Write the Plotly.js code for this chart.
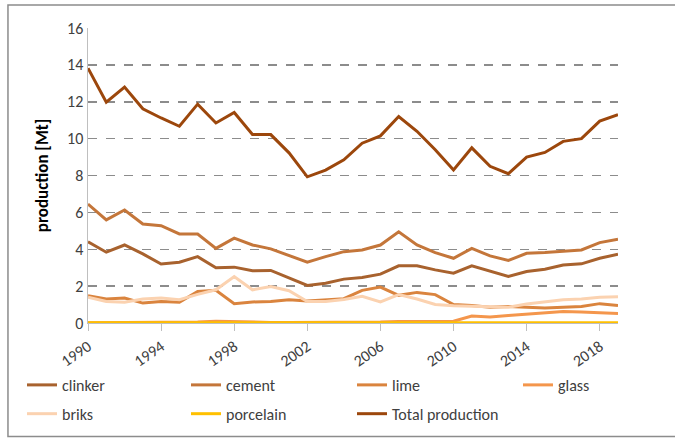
<!DOCTYPE html>
<html>
<head>
<meta charset="utf-8">
<script src="https://cdn.plot.ly/plotly-3.0.1.min.js"></script>
<style>
html,body{margin:0;padding:0;background:#fff;}
#chart{width:675px;height:438px;}
</style>
</head>
<body>
<div id="chart"></div>
<script>
var years = [1990,1991,1992,1993,1994,1995,1996,1997,1998,1999,2000,2001,2002,2003,2004,2005,2006,2007,2008,2009,2010,2011,2012,2013,2014,2015,2016,2017,2018,2019];
var tickYears = [1990,1994,1998,2002,2006,2010,2014,2018];
var yTicks = [0,2,4,6,8,10,12,14,16];

var clinker = [4.41,3.84,4.23,3.75,3.2,3.3,3.6,3.0,3.03,2.83,2.85,2.43,2.04,2.16,2.38,2.47,2.65,3.1,3.1,2.88,2.7,3.1,2.79,2.52,2.79,2.92,3.15,3.21,3.51,3.73];
var cement = [6.45,5.59,6.13,5.37,5.28,4.83,4.83,4.05,4.6,4.23,4.02,3.64,3.3,3.6,3.87,3.96,4.23,4.95,4.23,3.82,3.51,4.05,3.64,3.39,3.78,3.82,3.87,3.96,4.36,4.54];
var lime = [1.48,1.3,1.35,1.08,1.17,1.12,1.71,1.78,1.05,1.14,1.17,1.26,1.2,1.26,1.32,1.77,1.95,1.5,1.66,1.54,1.0,0.95,0.86,0.9,0.86,0.81,0.86,0.9,1.05,0.95];
var glass = [0.02,0.02,0.02,0.02,0.02,0.03,0.05,0.1,0.07,0.05,0.03,0.03,0.03,0.03,0.04,0.05,0.05,0.08,0.1,0.1,0.1,0.38,0.33,0.41,0.49,0.54,0.63,0.6,0.58,0.52];
var briks = [1.4,1.17,1.12,1.3,1.35,1.26,1.55,1.8,2.52,1.8,1.98,1.75,1.17,1.17,1.27,1.45,1.14,1.54,1.3,1.0,0.94,0.9,0.86,0.85,1.03,1.14,1.26,1.3,1.39,1.42];
var porcelain = [0.02,0.02,0.02,0.02,0.02,0.02,0.02,0.02,0.02,0.02,0.02,0.02,0.02,0.02,0.02,0.02,0.02,0.02,0.02,0.02,0.02,0.02,0.02,0.02,0.02,0.02,0.02,0.02,0.02,0.02];
var total = [13.82,11.98,12.8,11.62,11.12,10.67,11.87,10.85,11.42,10.22,10.22,9.23,7.93,8.29,8.85,9.75,10.15,11.2,10.4,9.4,8.3,9.5,8.5,8.1,9.0,9.25,9.85,10.0,10.95,11.3];

var names = ['clinker','cement','lime','glass','briks','porcelain','Total production'];
var series = [clinker,cement,lime,glass,briks,porcelain,total];
var colors = ['#A8622E','#C4763A','#DA843E','#F4964C','#FBD2B0','#FFC000','#9C470C'];
// legend column for each series (reference shows 4 columns, 2 rows)
var legendCols = ['legend','legend2','legend3','legend4','legend','legend2','legend3'];

var FONT = 'Carlito, "Liberation Sans Narrow", Lato, sans-serif';

var traces = names.map(function(n,i){
  return {x: years, y: series[i], name: n, type: 'scatter', mode: 'lines',
          legend: legendCols[i], legendgroup: 'g' + i,
          line: {color: colors[i], width: 3}};
});

function legendAt(xp){
  return {orientation: 'v', x: xp, xanchor: 'left', y: -0.1525, yanchor: 'top',
          font: {size: 16, color: '#404040'}, tracegroupgap: 5, itemwidth: 30,
          bgcolor: 'rgba(0,0,0,0)', borderwidth: 0};
}

var layout = {
  width: 675, height: 438,
  margin: {l: 88, r: 57, t: 28, b: 115, autoexpand: false},
  paper_bgcolor: '#fff', plot_bgcolor: '#fff',
  font: {family: FONT, color: '#404040', size: 15},
  showlegend: true,
  legend: legendAt(-0.1245),
  legend2: legendAt(0.1849),
  legend3: legendAt(0.4981),
  legend4: legendAt(0.8113),
  xaxis: {range: [1990, 2019], tickvals: tickYears, ticktext: tickYears.map(String),
          tickangle: -35, ticks: 'outside', ticklen: 7, tickcolor: '#BFBFBF', automargin: false,
          showgrid: false, zeroline: false, showline: true, linecolor: '#BFBFBF', linewidth: 1,
          tickfont: {size: 16, color: '#404040'}, fixedrange: true},
  yaxis: {range: [0, 16], tickvals: yTicks, showgrid: true, gridcolor: '#8C8C8C', gridwidth: 1.5,
          griddash: 'dash', zeroline: false, showline: true, linecolor: '#BFBFBF', linewidth: 1.5,
          ticks: '', tickfont: {size: 16, color: '#404040'}, automargin: false,
          title: {text: '<b>production [Mt]</b>', font: {size: 17, color: '#000'}, standoff: 14}},
  shapes: [{type: 'rect', xref: 'paper', yref: 'paper', x0: -0.151, x1: 1.2, y0: -0.385, y1: 1.078,
            line: {color: '#8C8C8C', width: 1.5}, layer: 'below'}]
};

Plotly.newPlot('chart', traces, layout, {displayModeBar: false, staticPlot: true});
</script>
</body>
</html>
